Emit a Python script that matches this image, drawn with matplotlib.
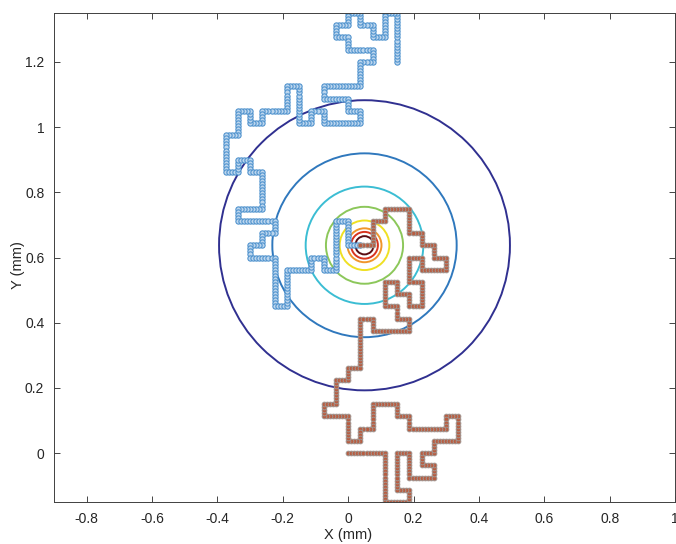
import numpy as np
import matplotlib
matplotlib.use('Agg')
import matplotlib.pyplot as plt
from matplotlib.patches import Circle

plt.rcParams['font.family'] = ['Liberation Sans', 'DejaVu Sans']
plt.rcParams['axes.unicode_minus'] = False

STEP = 0.0375   # lattice spacing of both walks (mm)
SUB = 4         # samples per lattice step

# corners of the walk that starts at (0.15, 1.2), lattice units
blue_i = [4, 4, 3, 3, 2, 2, 1, 1, 0, 0, -1, -1, 0, 0, 2, 2, 1, 1, -2, -2, 0, 0,
          1, 1, -2, -2, -3, -3, -4, -4, -5, -5, -7, -7, -8, -8, -9, -9, -10, -10,
          -9, -9, -8, -8, -7, -7, -9, -9, -6, -6, -7, -7, -8, -8, -6, -6, -5, -5,
          -3, -3, -2, -2, -1, -1, 0, 0, 1]
blue_j = [32, 36, 36, 34, 34, 35, 35, 36, 36, 35, 35, 34, 34, 33, 33, 32, 32, 30,
          30, 29, 29, 28, 28, 27, 27, 28, 28, 27, 27, 30, 30, 28, 28, 27, 27, 28,
          28, 26, 26, 23, 23, 24, 24, 23, 23, 20, 20, 19, 19, 18, 18, 17, 17, 16,
          16, 12, 12, 15, 15, 16, 16, 15, 15, 19, 19, 17, 17]

# corners of the walk that starts at the origin
red_i = [0, 3, 3, 5, 5, 4, 4, 5, 5, 7, 7, 6, 6, 7, 7, 9, 9, 8, 8, 5, 5, 4, 4, 2,
         2, 1, 1, 0, 0, -2, -2, -1, -1, 0, 0, 1, 1, 2, 2, 5, 5, 4, 4, 3, 3, 4, 4,
         5, 5, 6, 6, 5, 5, 6, 6, 8, 8, 7, 7, 6, 6, 5, 5, 3, 3, 2, 2, 1]
red_j = [0, 0, -4, -4, -3, -3, 0, 0, -2, -2, -1, -1, 0, 0, 1, 1, 3, 3, 2, 2, 3,
         3, 4, 4, 2, 2, 1, 1, 3, 3, 4, 4, 6, 6, 7, 7, 11, 11, 10, 10, 11, 11, 12,
         12, 14, 14, 13, 13, 12, 12, 14, 14, 16, 16, 15, 15, 16, 16, 17, 17, 18,
         18, 20, 20, 19, 19, 17, 17]

# iso-lines round the target
center_x, center_y = 0.05, 0.6375
radii = [0.445, 0.282, 0.18, 0.118, 0.076, 0.052, 0.041, 0.028]
ring_colors = ['#303090', '#2f78bd', '#3bbdd3', '#8cc75a', '#efe024',
               '#f0962c', '#d8341f', '#5a0c12']


def walk_points(ii, jj):
    xs, ys = [ii[0]], [jj[0]]
    for k in range(1, len(ii)):
        n = (abs(ii[k] - ii[k - 1]) + abs(jj[k] - jj[k - 1])) * SUB
        t = np.arange(1, n + 1) / n
        xs.extend(ii[k - 1] + (ii[k] - ii[k - 1]) * t)
        ys.extend(jj[k - 1] + (jj[k] - jj[k - 1]) * t)
    return np.array(xs) * STEP, np.array(ys) * STEP


fig = plt.figure(figsize=(6.76, 5.44), dpi=100)
ax = fig.add_axes([54 / 676, 42 / 544, 621 / 676, 489 / 544])

for r, c in zip(radii, ring_colors):
    ax.add_patch(Circle((center_x, center_y), r, fill=False, color=c, lw=1.4))

bx, by = walk_points(blue_i, blue_j)
ax.plot(bx, by, 'o', ms=3.8, mfc='#bcd6ee', mec='#4a8fcc', mew=0.75)

rx, ry = walk_points(red_i, red_j)
ax.plot(rx, ry, 'o', ms=3.4, mfc='#b85c40', mec='#a09590', mew=0.7)

ax.set_xlim(-0.9, 1.0)
ax.set_ylim(-0.15, 1.35)
ax.set_xticks(np.arange(-0.8, 1.01, 0.2))
ax.set_xticklabels(['-0.8', '-0.6', '-0.4', '-0.2', '0', '0.2', '0.4', '0.6', '0.8', '1'])
ax.set_yticks(np.arange(0, 1.21, 0.2))
ax.set_yticklabels(['0', '0.2', '0.4', '0.6', '0.8', '1', '1.2'])
ax.tick_params(direction='in', top=True, right=True, length=4, width=0.6,
               labelsize=10, colors='#262626', pad=7)
for s in ax.spines.values():
    s.set_color('#404040')
    s.set_linewidth(0.7)

ax.set_xlabel('X (mm)', fontsize=10.5, color='#262626')
ax.set_ylabel('Y (mm)', fontsize=10.5, color='#262626')
ax.xaxis.set_label_coords(0.474, -0.053)
ax.yaxis.set_label_coords(-0.047, 0.485)

fig.savefig('out.png', dpi=100)
